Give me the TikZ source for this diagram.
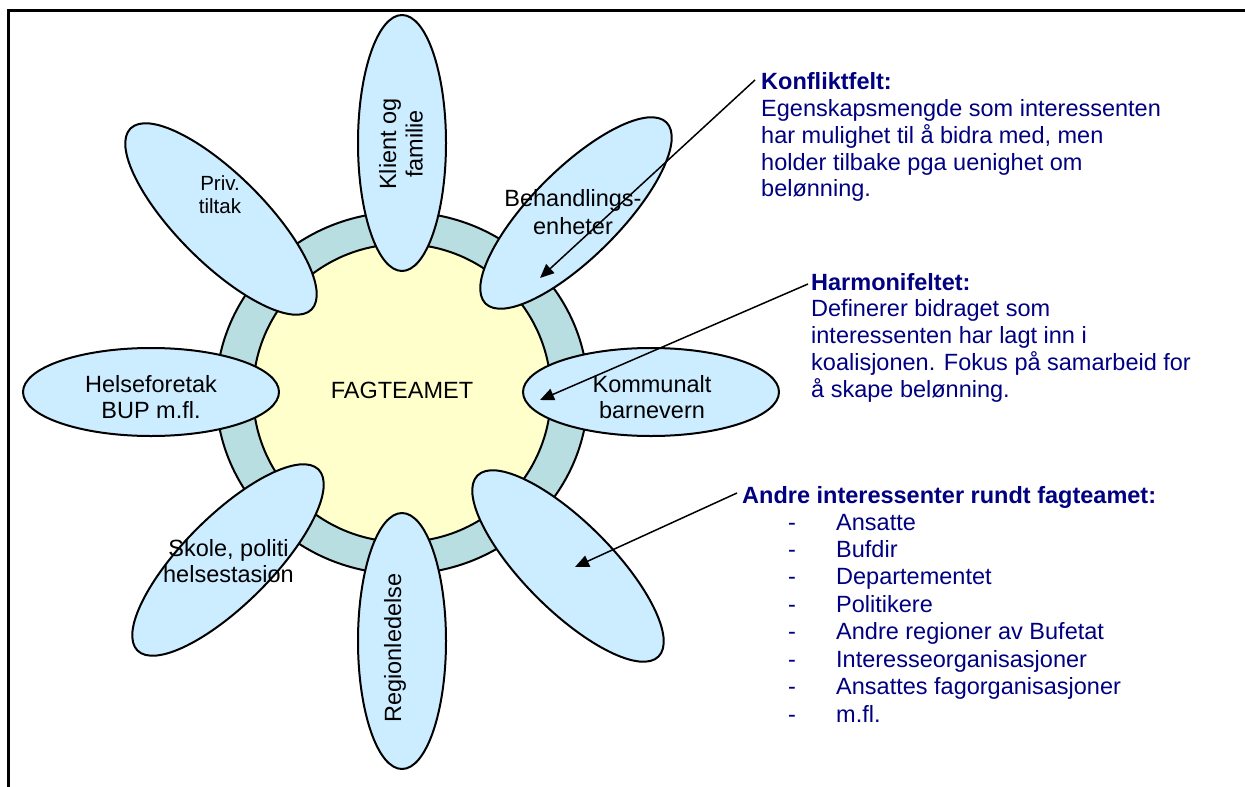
\documentclass[tikz,border=0pt]{standalone}
\usepackage{fontspec}
\setmainfont{Liberation Sans}
\usetikzlibrary{shapes.geometric,arrows.meta}
\definecolor{petalblue}{RGB}{204,236,255}
\definecolor{ringteal}{RGB}{185,222,225}
\definecolor{coreyellow}{RGB}{255,255,204}
\definecolor{notenavy}{RGB}{0,0,128}
\newcommand\bigtxt{\fontsize{23.5}{26.5}\selectfont}

\begin{document}
\begin{tikzpicture}[x=1pt,y=-1pt,
  petal/.style={ellipse, draw=black, line width=2pt, fill=petalblue,
                minimum width=256pt, minimum height=88pt, inner sep=0pt},
  lbl/.style={font=\bigtxt, align=center, inner sep=0pt, text=black},
  note/.style={font=\bigtxt, inner sep=0pt, text=notenavy, anchor=base west},
  notehead/.style={note, font=\bigtxt\bfseries},
  pointer/.style={line width=1.5pt, -{Triangle[length=14pt,width=12pt]}},
]
\useasboundingbox (0,0) rectangle (1245,787);

% page frame (top and left edges)
\draw[line width=3pt] (8,787) -- (8,10) -- (1245,10);

% the team in the middle with its surrounding ring
\node[ellipse, draw=black, line width=2pt, fill=ringteal,
      minimum width=372pt, minimum height=362pt, inner sep=0pt] (ring) at (402,393) {};
\node[circle, draw=black, line width=2pt, fill=coreyellow,
      minimum size=298pt, inner sep=0pt] (core) at (402,393) {};

% stakeholder petals
\node[petal, rotate=90]  (klient)   at (402,143) {};
\node[petal, rotate=90]  (region)   at (402,641) {};
\node[petal]             (helse)    at (151,392) {};
\node[petal]             (kommunal) at (651,392) {};
\node[petal, rotate=-45] (priv)     at (221,219) {};
\node[petal, rotate=45]  (behand)   at (576,213) {};
\node[petal, rotate=-45] (others)   at (568,566) {};
\node[petal, rotate=45]  (skole)    at (228,560) {};

% petal labels
\node[lbl] (coreL) at (402,390) {FAGTEAMET};
\node[lbl, rotate=90] (klientL) at (401,144) {Klient og\\familie};
\node[lbl, rotate=90] (regionL) at (395,648) {Regionledelse};
\node[lbl] (helseL) at (151,397) {Helseforetak\\BUP m.fl.};
\node[lbl] (kommunalL) at (652,397) {Kommunalt\\barnevern};
\node[lbl, font=\fontsize{20.5}{22.7}\selectfont] (privL) at (220,195) {Priv.\\tiltak};
\node[lbl, font=\fontsize{23.5}{28}\selectfont] (behandL) at (573,212) {Behandlings-\\enheter};
\node[lbl] (skoleL) at (228.5,561) {Skole, politi\\helsestasion};

% conflict field note
\node[notehead] (konfT) at (761,89.3) {Konfliktfelt:};
\foreach \t [count=\i] in {Egenskapsmengde som interessenten,
    {har mulighet til å bidra med, men},
    holder tilbake pga uenighet om,
    belønning.}
  \node[note] (konf-\i) at (761,89.3+26.9*\i) {\t};

% harmony field note
\node[notehead] (harmT) at (811,290) {Harmonifeltet:};
\foreach \t [count=\i] in {Definerer bidraget som,
    interessenten har lagt inn i,
    koalisjonen. Fokus på samarbeid for,
    å skape belønning.}
  \node[note] (harm-\i) at (811,290+26.9*\i) {\t};

% other stakeholders list
\node[notehead] (andreT) at (742,503) {Andre interessenter rundt fagteamet:};
\foreach \t [count=\i from 0] in {Ansatte, Bufdir, Departementet, Politikere,
    Andre regioner av Bufetat, Interesseorganisasjoner,
    Ansattes fagorganisasjoner, m.fl.}{
  \node[note] (dash-\i) at (788,530+27.45*\i) {-};
  \node[note] (item-\i) at (836,530+27.45*\i) {\t};
}

% pointers from the notes into the petals
\coordinate (konf-from) at (755,80);
\coordinate (konf-to)   at (540,278);
\coordinate (harm-from) at (808,284);
\coordinate (harm-to)   at (540,400);
\coordinate (andre-from) at (737,493);
\coordinate (andre-to)   at (575,567);
\draw[pointer] (konf-from) -- (konf-to);
\draw[pointer] (harm-from) -- (harm-to);
\draw[pointer] (andre-from) -- (andre-to);
\end{tikzpicture}
\end{document}
